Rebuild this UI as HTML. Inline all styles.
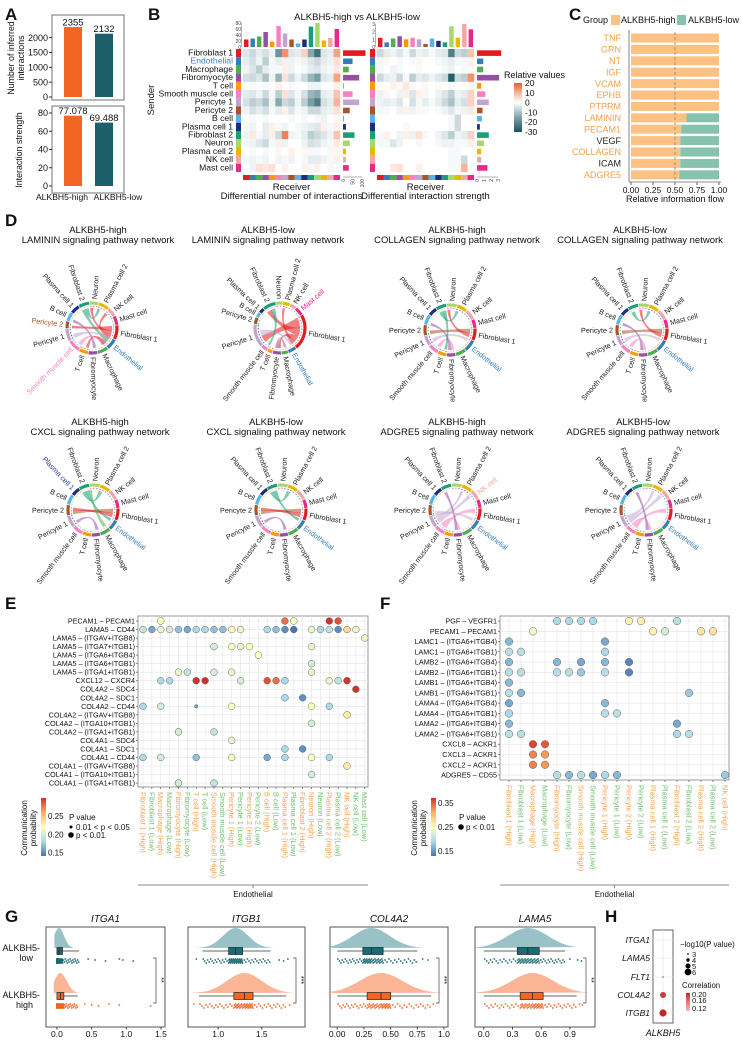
<!DOCTYPE html>
<html><head><meta charset="utf-8"><style>
html,body{margin:0;padding:0;background:#fff;}
svg{display:block;font-family:"Liberation Sans",Arial,sans-serif;}
</style></head><body>
<svg id="fig" width="742" height="1042" viewBox="0 0 742 1042" xmlns="http://www.w3.org/2000/svg"></svg>
<script>
// ---------- DATA ----------
const aCats=['ALKBH5-high','ALKBH5-low'];
const aCounts=[2355,2132];
const aStrength=[77.078,69.488];
const aCountTicks=[0,500,1000,1500,2000];
const aStrTicks=[0,20,40,60,80];

const cellTypes=['Fibroblast 1','Endothelial','Macrophage','Fibromyocyte','T cell','Smooth muscle cell','Pericyte 1','Pericyte 2','B cell','Plasma cell 1','Fibroblast 2','Neuron','Plasma cell 2','NK cell','Mast cell'];
const cellColors=['#e41a1c','#377eb8','#4daf4a','#984ea3','#ff9900','#f781bf','#c2a5cf','#a65628','#56b4e9','#1f2a80','#1b9e77','#a6d96a','#e6b800','#f4a6a6','#e7298a'];
const bLeft=[
"-4 -6 -3 -5 -2 -18 14 -4 -3 6 -14 -24 -4 -3 12",
"-3 -5 -2 -8 -1 -3 2 -2 -1 -2 -4 -6 -3 -2 4",
"-2 -4 -8 -3 -1 -1 2 -2 0 -1 -3 -4 -2 -1 3",
"-5 -6 -4 -10 -2 -12 4 -6 -2 -6 -12 -16 -4 -3 12",
"0 -1 0 -1 0 2 0 -1 0 0 -2 -2 0 0 2",
"-3 -4 -2 -6 -1 -8 4 -4 -1 -5 -12 -14 -3 -2 8",
"-5 -8 -6 -10 -2 -14 -6 -8 -2 -8 -16 -22 -5 -3 10",
"-2 -5 -3 -5 -1 -3 2 -4 -1 -2 -6 -6 -3 -2 4",
"0 -1 0 -1 0 0 0 -1 0 -1 0 -1 -2 0 1",
"-1 -2 0 -3 2 1 -2 0 -1 -2 -3 -4 2 -1 2",
"-2 3 -1 -3 2 -6 16 -2 -1 -3 -8 -6 -4 -2 8",
"-1 -2 -4 -6 -1 2 -2 0 0 -2 -5 -4 -2 -1 3",
"0 -1 0 -1 0 1 0 2 0 1 -1 -1 0 -1 1",
"-1 -2 -1 -2 0 -2 -1 -2 0 -1 -3 -3 -2 -1 2",
"0 -2 4 3 4 0 2 0 0 2 -1 2 0 -1 0"];
const bRight=[
"-6 -3 -2 -4 -1 -6 -2 -3 -1 -3 -4 -22 -6 -8 8",
"-1 1 0 -1 0 -1 1 0 0 -1 -2 -3 -1 -1 2",
"-1 0 -2 -1 0 0 1 0 0 0 -1 -2 0 -1 1",
"-6 -3 -2 -6 -1 -8 -3 -4 -2 -4 -6 -28 -6 -8 14",
"0 0 2 1 3 1 0 1 0 1 0 -1 0 0 1",
"-2 1 0 -2 2 -4 2 -1 0 -2 -4 -8 -2 -3 6",
"-2 -3 -2 -4 0 -5 -1 -3 -1 -3 -6 -10 -3 -5 6",
"-1 -1 0 -2 2 -2 1 -1 0 -1 -2 -4 -1 -2 3",
"0 0 0 0 0 0 0 0 0 0 0 -1 -6 0 0",
"0 0 0 0 1 0 0 0 0 0 0 -1 -6 0 0",
"-1 2 0 -2 2 -2 4 -1 0 -2 -4 -8 -2 -3 6",
"-1 -1 -4 -2 0 0 1 0 0 -1 -2 -2 -1 -1 2",
"0 0 0 0 0 0 0 0 0 0 0 -1 -1 0 0",
"0 0 0 0 0 0 0 0 0 0 0 -1 -1 -6 0",
"0 0 3 4 0 0 2 0 0 0 0 -1 1 10 0"];
const bTopLeft=[25,28,35,50,18,70,45,25,12,25,68,80,22,30,60];
const bTopRight=[1.2,0.6,1.1,1.4,1.0,1.2,1.0,0.4,1.1,0.8,0.6,2.7,1.2,3.0,2.3];
const bSideLeft=[118,50,30,85,5,50,85,35,5,15,60,35,15,15,30];
const bSideRight=[3.5,0.9,0.9,3.2,0.6,1.2,1.7,0.8,0.7,0.4,1.7,1.0,0.6,0.6,1.5];
const bLegendTicks=[20,10,0,-10,-20,-30];

const cPathways=['TNF','GRN','NT','IGF','VCAM','EPHB','PTPRM','LAMININ','PECAM1','VEGF','COLLAGEN','ICAM','ADGRE5'];
const cHighShare=[1,1,1,1,1,1,1,0.63,0.57,0.56,0.56,0.56,0.55];
const cSig=[1,1,1,1,1,1,1,1,1,0,1,0,1];
const cTicks=[0,0.25,0.5,0.75,1];

const dTitles=[['ALKBH5-high','LAMININ signaling pathway network'],['ALKBH5-low','LAMININ signaling pathway network'],['ALKBH5-high','COLLAGEN signaling pathway network'],['ALKBH5-low','COLLAGEN signaling pathway network'],['ALKBH5-high','CXCL signaling pathway network'],['ALKBH5-low','CXCL signaling pathway network'],['ALKBH5-high','ADGRE5 signaling pathway network'],['ALKBH5-low','ADGRE5 signaling pathway network']];
const dWeights=[
[8,6,6,5,5,7,7,4,5,5,6,5,6,5,5],
[22,5,4,5,3,4,14,4,3,3,8,4,4,4,5],
[7,7,6,5,5,6,6,6,6,5,6,6,6,6,5],
[7,7,6,5,5,6,6,6,6,5,6,6,6,6,5],
[7,6,6,5,5,6,7,6,6,5,6,6,6,6,5],
[7,6,6,5,5,6,7,6,6,5,6,6,6,6,5],
[7,6,6,5,5,6,7,6,6,5,6,6,6,6,5],
[7,6,6,5,5,6,7,6,6,5,6,6,6,6,5]];
const dLinks=[
[[0,7,3],[0,11,2],[0,13,2],[10,0,3],[10,12,2],[3,8,2],[5,2,2],[6,1,2],[0,4,2]],
[[0,6,5],[0,10,4],[0,3,3],[0,12,2],[6,1,3],[10,5,2],[3,2,2]],
[[7,0,3],[10,12,2],[5,3,3],[6,1,2],[0,11,2],[3,8,2],[10,4,2]],
[[7,0,3],[10,12,2],[5,3,3],[6,1,2],[0,11,2],[3,8,2]],
[[7,0,3],[10,12,3],[3,6,2],[10,1,2],[0,7,2],[2,10,2]],
[[7,0,3],[10,12,3],[3,6,2],[10,1,2],[0,7,2]],
[[6,13,3],[5,0,3],[6,12,2],[5,3,2],[3,10,2],[6,1,2]],
[[6,13,3],[5,0,3],[6,12,2],[5,3,2],[3,10,2]]];
const dHighlights=[{7:'#a65628',5:'#f781bf',1:'#377eb8'},{14:'#e7298a',1:'#377eb8'},{1:'#377eb8'},{1:'#377eb8'},{9:'#2d3a9a',1:'#377eb8'},{1:'#377eb8'},{13:'#f4a6a6',1:'#377eb8'},{1:'#377eb8'}];

const eRows=['PECAM1 – PECAM1','LAMA5 – CD44','LAMA5 – (ITGAV+ITGB8)','LAMA5 – (ITGA7+ITGB1)','LAMA5 – (ITGA6+ITGB4)','LAMA5 – (ITGA6+ITGB1)','LAMA5 – (ITGA1+ITGB1)','CXCL12 – CXCR4','COL4A2 – SDC4','COL4A2 – SDC1','COL4A2 – CD44','COL4A2 – (ITGAV+ITGB8)','COL4A2 – (ITGA10+ITGB1)','COL4A2 – (ITGA1+ITGB1)','COL4A1 – SDC4','COL4A1 – SDC1','COL4A1 – CD44','COL4A1 – (ITGAV+ITGB8)','COL4A1 – (ITGA10+ITGB1)','COL4A1 – (ITGA1+ITGB1)'];
const eCols=['Fibroblast 1 (High)','Fibroblast 1 (Low)','Macrophage (High)','Macrophage (Low)','Fibromyocyte (High)','Fibromyocyte (Low)','T cell (High)','T cell (Low)','Smooth muscle cell (High)','Smooth muscle cell (Low)','Pericyte 1 (High)','Pericyte 1 (Low)','Pericyte 2 (High)','Pericyte 2 (Low)','B cell (High)','B cell (Low)','Plasma cell 1 (High)','Plasma cell 1 (Low)','Fibroblast 2 (High)','Neuron (High)','Neuron (Low)','Plasma cell 2 (High)','Plasma cell 2 (Low)','NK cell (High)','NK cell (Low)','Mast cell (Low)'];
const eRowIdx=[0,0,0,0,0, 1,1,1,1,1,1,1,1,1,1,1,1,1,1,1,1,1,1,1,1,1,1, 2, 3,3,3,3,3, 4,5, 6,6,6,6,6, 7,7,7,7,7,7,7,7,7,7,7, 8, 9,9, 10,10,10,10,10,10, 11,12, 13,13,13, 14, 15,15, 16,16,16,16,16,16,16,16, 17,18, 19,19,19];
const eColIdx=[2,16,17,21,22, 0,1,2,3,4,5,6,7,8,9,10,11,14,15,16,17,19,20,21,22,23,24,25, 19, 8,10,11,12,13, 19,19, 4,5,8,10,11, 2,3,6,7,14,15,16,21,22,23,24, 18, 16,21, 0,2,6,10,19,23, 19,4, 4,8,10, 18, 16,21, 0,2,6,10,14,16,19,23, 19,4, 4,8,10];
const eProb=[0.22,0.28,0.22,0.30,0.29, 0.19,0.16,0.21,0.20,0.17,0.16,0.18,0.18,0.17,0.17,0.22,0.21,0.18,0.17,0.15,0.14,0.21,0.18,0.19,0.15,0.24,0.21,0.21, 0.21, 0.20,0.22,0.21,0.22,0.22, 0.20,0.21, 0.21,0.19,0.20,0.21,0.20, 0.18,0.18,0.30,0.30,0.29,0.28,0.18,0.21,0.19,0.30,0.30, 0.15, 0.18,0.18, 0.18,0.20,0.16,0.22,0.22,0.23, 0.20,0.20, 0.20,0.19,0.21, 0.15, 0.18,0.18, 0.18,0.20,0.17,0.22,0.16,0.18,0.22,0.23, 0.20,0.20, 0.20,0.19,0.21];
const eSmall=[[10,6]];

const fRows=['PGF – VEGFR1','PECAM1 – PECAM1','LAMC1 – (ITGA6+ITGB4)','LAMC1 – (ITGA6+ITGB1)','LAMB2 – (ITGA6+ITGB4)','LAMB2 – (ITGA6+ITGB1)','LAMB1 – (ITGA6+ITGB4)','LAMB1 – (ITGA6+ITGB1)','LAMA4 – (ITGA6+ITGB4)','LAMA4 – (ITGA6+ITGB1)','LAMA2 – (ITGA6+ITGB4)','LAMA2 – (ITGA6+ITGB1)','CXCL8 – ACKR1','CXCL3 – ACKR1','CXCL2 – ACKR1','ADGRE5 – CD55'];
const fCols=['Fibroblast 1 (High)','Fibroblast 1 (Low)','Macrophage (High)','Macrophage (Low)','Fibromyocyte (High)','Fibromyocyte (Low)','Smooth muscle cell (High)','Smooth muscle cell (Low)','Pericyte 1 (High)','Pericyte 1 (Low)','Pericyte 2 (High)','Pericyte 2 (Low)','Plasma cell 1 (High)','Plasma cell 1 (Low)','Fibroblast 2 (High)','Fibroblast 2 (Low)','Plasma cell 2 (High)','Plasma cell 2 (Low)','NK cell (High)'];
const fRowIdx=[0,0,0,0,0,0,0, 1,1,1,1,1, 2,2, 3,3,3, 4,4,4,4,4, 5,5,5,5,5,5,5, 6, 7,7,7, 8,8, 9,9,9, 10,10, 11,11,11,11, 12,12, 13,13, 14,14, 15,15,15,15,15,15,15];
const fColIdx=[4,5,6,7,10,11,14, 2,12,13,16,17, 0,8, 0,1,8, 0,4,6,8,10, 0,1,4,5,6,8,10, 0, 0,1,15, 0,8, 0,8,9, 0,14, 0,1,14,15, 2,3, 2,3, 2,3, 4,5,6,7,8,9,18];
const fProb=[0.19,0.19,0.19,0.19,0.26,0.26,0.20, 0.24,0.26,0.22,0.27,0.27, 0.17,0.16, 0.20,0.20,0.19, 0.17,0.17,0.16,0.17,0.14, 0.20,0.20,0.20,0.20,0.18,0.20,0.14, 0.17, 0.20,0.17,0.18, 0.16,0.17, 0.19,0.20,0.20, 0.17,0.16, 0.20,0.20,0.19,0.20, 0.36,0.35, 0.33,0.32, 0.33,0.32, 0.20,0.17,0.20,0.16,0.19,0.17,0.18];

const gGenes=['ITGA1','ITGB1','COL4A2','LAMA5'];
const gLowStats=[[0,0,0.03,0.08,0.32],[0.82,1.12,1.2,1.28,1.6],[0,0.24,0.32,0.43,0.75],[0,0.35,0.46,0.58,0.85]];
const gHighStats=[[0,0,0.05,0.1,0.3],[0.78,1.18,1.3,1.4,1.78],[0,0.28,0.41,0.5,0.88],[0,0.38,0.51,0.62,0.97]];
const gLowOutliers=[[0.45,0.55,0.7,0.9,0.95,1.1],[0.75,1.7,1.75,1.8],[0.8,0.85],[0.9,0.98,1.02]];
const gHighOutliers=[[0.4,0.5,0.6,0.75,0.9,1.35],[0.72,1.82],[0.9],[1.0,1.03]];
const gDomain=[[-0.1,1.5],[0.7,1.95],[-0.03,1.0],[-0.05,1.12]];
const gTicks=[[0,0.5,1.0,1.5],[1.0,1.5],[0,0.25,0.5,0.75,1.0],[0,0.3,0.6,0.9]];
const gTickLabels=[['0.0','0.5','1.0','1.5'],['1.0','1.5'],['0.00','0.25','0.50','0.75','1.0'],['0.0','0.3','0.6','0.9']];
const gSig=['**','***','***','**'];

const hGenes=['ITGA1','LAMA5','FLT1','COL4A2','ITGB1'];
const hLogP=[0.5,2.5,3.2,5.5,6.2];
const hCorr=[0.10,0.13,0.15,0.19,0.20];

// ---------- HELPERS ----------
const NS='http://www.w3.org/2000/svg';
const svg=document.getElementById('fig');
function mk(tag,attrs,parent){const e=document.createElementNS(NS,tag);for(const k in attrs)e.setAttribute(k,attrs[k]);(parent||svg).appendChild(e);return e;}
function tx(x,y,s,attrs,parent){const a=Object.assign({x:x,y:y,'font-size':8,fill:'#111'},attrs||{});const e=mk('text',a,parent);e.textContent=s;return e;}
function grp(name){const g=mk('g',{});return g;}
function hex2rgb(h){return [parseInt(h.substr(1,2),16),parseInt(h.substr(3,2),16),parseInt(h.substr(5,2),16)];}
function ramp(stops,t){t=Math.max(0,Math.min(1,t));const n=stops.length-1;const i=Math.min(n-1,Math.floor(t*n));const f=t*n-i;const a=hex2rgb(stops[i]),b=hex2rgb(stops[i+1]);return 'rgb('+a.map((v,k)=>Math.round(v+(b[k]-v)*f)).join(',')+')';}
function panelLabel(x,y,s){const e=tx(x,y,s,{'font-size':17,'font-weight':'bold'});}

panelLabel(5,20,'A');panelLabel(148,20,'B');panelLabel(569,20,'C');panelLabel(5,226,'D');panelLabel(5,609,'E');panelLabel(380,609,'F');panelLabel(5,922,'G');panelLabel(605,922,'H');

// ---------- PANEL A ----------
(function(){
  const g=grp('panel-a-bar-charts');
  const barX=[64,95], bw=18;
  const yC=v=>97-v*0.0297, yS=v=>186-v*0.9125;
  function frame(y0,y1,ticks,ys,vals,fmt,name){
    const f=mk('rect',{x:52,y:y0,width:72,height:y1-y0,fill:'none',stroke:'#888','stroke-width':1.2},g);
    
    ticks.forEach(t=>{mk('line',{x1:49,x2:52,y1:ys(t),y2:ys(t),stroke:'#333'},g);const l=tx(48,ys(t)+3.2,String(t),{'text-anchor':'end','font-size':9},g);});
    vals.forEach((v,i)=>{const b=mk('rect',{x:barX[i],y:ys(v),width:bw,height:ys(0)-ys(v),fill:i?'#1c5f6b':'#f26522'},g);
      const l=tx(barX[i]+bw/2,ys(v)-1.5,fmt(v),{'text-anchor':'middle','font-size':9.5},g);});
  }
  frame(15,100,aCountTicks,yC,aCounts,v=>String(v),'count');
  frame(106,193,aStrTicks,yS,aStrength,v=>v.toFixed(3),'strength');
  const t1=tx(0,0,'Number of inferred',{'text-anchor':'middle','font-size':8.8,transform:'translate(14,58) rotate(-90)'},g);
  tx(0,0,'interactions',{'text-anchor':'middle','font-size':8.8,transform:'translate(24,58) rotate(-90)'},g);
  const t2=tx(0,0,'Interaction strength',{'text-anchor':'middle','font-size':8.8,transform:'translate(22,150) rotate(-90)'},g);
  [62,118].forEach((x,i)=>{const l=tx(x,200,aCats[i],{'text-anchor':'middle','font-size':8.6},g);});
})();

// ---------- PANEL B ----------
(function(){
  const g=grp('panel-b-heatmaps');
  const hstops=['#18535f','#7fa3ab','#ffffff','#f9b49c','#f05a28'];
  const col=v=>v<0?ramp(hstops.slice(0,3),1-Math.max(-30,v)/-30):ramp(hstops.slice(2),Math.min(20,v)/20);
  const y0=49,rh=8.2,cw=6.47;
  const t=tx(357,20,'ALKBH5-high vs ALKBH5-low',{'text-anchor':'middle','font-size':9.5},g);
  cellTypes.forEach((c,i)=>{const l=tx(233,y0+rh*i+6.5,c,{'text-anchor':'end','font-size':8.6,fill:i==1?'#3b82c4':'#111'},g);});
  const s=tx(0,0,'Sender',{'text-anchor':'middle','font-size':9.5,transform:'translate(154,100) rotate(-90)'},g);
  function heat(mat,x0,top,topScale,topTicks,side,sideScale,sideTicks,sub,name){
    const stripX=x0-7;
    cellTypes.forEach((c,i)=>{
      mk('rect',{x:stripX,y:y0+rh*i,width:5,height:rh,fill:cellColors[i]},g);
      mk('rect',{x:x0+cw*i,y:175,width:cw,height:5,fill:cellColors[i]},g);
      const vals=mat[i].split(' ').map(Number);
      vals.forEach((v,j)=>{const r=mk('rect',{x:x0+cw*j,y:y0+rh*i,width:cw+0.2,height:rh+0.2,fill:col(v)},g);});
      const tb=mk('rect',{x:x0+cw*i+1,y:47-top[i]*topScale,width:cw-2,height:top[i]*topScale,fill:cellColors[i]},g);
      const sb=mk('rect',{x:x0+cw*15+3,y:y0+rh*i+1.3,width:side[i]*sideScale,height:rh-2.6,fill:cellColors[i]},g);
    });
    topTicks.forEach(v=>{tx(x0-2,47-v*topScale+2,String(v),{'text-anchor':'end','font-size':5,fill:'#444'},g);});
    mk('line',{x1:x0-1.5,x2:x0-1.5,y1:47,y2:47-topTicks[topTicks.length-1]*topScale,stroke:'#666','stroke-width':0.5},g);
    const sx=x0+cw*15+3;
    mk('line',{x1:sx,x2:sx+sideTicks[sideTicks.length-1]*sideScale,y1:177,y2:177,stroke:'#666','stroke-width':0.5},g);
    sideTicks.forEach(v=>{tx(0,0,String(v),{'font-size':5,fill:'#444',transform:'translate('+(sx+v*sideScale+2)+',179) rotate(-90)','text-anchor':'end'},g);});
    const cx=x0+cw*7.5;
    const r1=tx(cx,190,'Receiver',{'text-anchor':'middle','font-size':9.5},g);
    tx(cx,199,sub,{'text-anchor':'middle','font-size':9.5},g);
  }
  heat(bLeft,243,bTopLeft,0.3,[0,20,40,60,80],bSideLeft,0.19,[0,50,100],'Differential number of interactions','count-heatmap');
  heat(bRight,377,bTopRight,7.7,[0,1,2,3],bSideRight,6.9,[0,1,2,3],'Differential interaction strength','strength-heatmap');
  const lt=tx(504,78,'Relative values',{'font-size':9},g);
  const defs=mk('defs',{},g);const lg=mk('linearGradient',{id:'hg',x1:0,y1:0,x2:0,y2:1},defs);
  [['0','#f05a28'],['0.2','#f9b49c'],['0.4','#ffffff'],['0.7','#7fa3ab'],['1','#18535f']].forEach(s=>mk('stop',{offset:s[0],'stop-color':s[1]},lg));
  const lb=mk('rect',{x:514,y:83,width:8,height:49,fill:'url(#hg)'},g);
  bLegendTicks.forEach(v=>{const y=83+(20-v)/50*49;tx(525,y+3,String(v),{'font-size':8.5},g);});
})();

// ---------- PANEL C ----------
(function(){
  const g=grp('panel-c-information-flow');
  const x=v=>631+v*88, y0=33, rh=11.4;
  tx(583,23,'Group',{'font-size':9},g);
  const s1=mk('rect',{x:611,y:15,width:9,height:10,fill:'#fdc283'},g);
  tx(621,23,'ALKBH5-high',{'font-size':9},g);
  const s2=mk('rect',{x:677,y:15,width:9,height:10,fill:'#86c2ad'},g);
  tx(688,23,'ALKBH5-low',{'font-size':9},g);
  mk('line',{x1:629,x2:629,y1:30,y2:182,stroke:'#666','stroke-width':0.8},g);
  cPathways.forEach((p,i)=>{
    const yc=y0+rh*i+5;
    const b1=mk('rect',{x:x(0),y:yc-4.5,width:x(cHighShare[i])-x(0),height:9,fill:'#fdc283'},g);
    if(cHighShare[i]<1){const b2=mk('rect',{x:x(cHighShare[i]),y:yc-4.5,width:x(1)-x(cHighShare[i]),height:9,fill:'#86c2ad'},g);}
    const l=tx(621,yc+3.2,p,{'text-anchor':'end','font-size':9,fill:cSig[i]?'#f5a04a':'#222'},g);
  });
  mk('line',{x1:x(0.5),x2:x(0.5),y1:32,y2:182,stroke:'#777','stroke-dasharray':'3,2','stroke-width':0.7},g);
  mk('line',{x1:629,x2:721,y1:182,y2:182,stroke:'#666','stroke-width':0.8},g);
  cTicks.forEach(t=>{mk('line',{x1:x(t),x2:x(t),y1:182,y2:185,stroke:'#666'},g);tx(x(t),193,t.toFixed(2),{'text-anchor':'middle','font-size':8.5},g);});
  const ti=tx(675,202,'Relative information flow',{'text-anchor':'middle','font-size':9},g);
})();

// ---------- PANEL D ----------
(function(){
  const centers=[[92,328],[280,328],[450,330],[642,330],[93,510],[281,510],[455,510],[646,510]];
  const titleX=[98,268,457,640,100,276,457,643];
  const titleY=[233,233,233,233,425,425,425,425];
  const R=25, RAD=Math.PI/180;
  centers.forEach((c,di)=>{
    const g=grp('chord-diagram-'+(di+1));
    const [cx,cy]=c;
    const t1=tx(titleX[di],titleY[di],dTitles[di][0],{'text-anchor':'middle','font-size':9.5},g);
    tx(titleX[di],titleY[di]+10,dTitles[di][1],{'text-anchor':'middle','font-size':9.5},g);
    const w=dWeights[di];const tot=w.reduce((a,b)=>a+b,0);const gap=1.5;const avail=360-gap*15;
    let a=10-(w[0]/tot*avail)/2;const arcs=[];
    w.forEach((v,i)=>{const span=v/tot*avail;arcs.push([a,a+span]);a+=span+gap;});
    const pt=(ang,r)=>[cx+r*Math.cos(ang*RAD),cy+r*Math.sin(ang*RAD)];
    const used=arcs.map(()=>0);
    dLinks[di].forEach(l=>{
      const [s,t,wt]=l;const spanS=(arcs[s][1]-arcs[s][0]),spanT=(arcs[t][1]-arcs[t][0]);
      const ws=Math.min(spanS*0.45,wt*6),wtA=Math.min(spanT*0.45,wt*4);
      const s1=arcs[s][0]+used[s],s2=s1+ws;used[s]+=ws;
      const t1a=arcs[t][0]+used[t],t2=t1a+wtA;used[t]+=wtA;
      const r=R-5;const p1=pt(s1,r),p2=pt(s2,r),p3=pt(t1a,r),p4=pt(t2,r);
      const d='M'+p1+' A'+r+','+r+' 0 0,1 '+p2+' Q'+cx+','+cy+' '+p3+' A'+r+','+r+' 0 0,1 '+p4+' Q'+cx+','+cy+' '+p1+'Z';
      const rb=mk('path',{d:d,fill:cellColors[s],'fill-opacity':0.55,stroke:cellColors[s],'stroke-opacity':0.3,'stroke-width':0.3},g);
      
    });
    const hl=dHighlights[di];
    arcs.forEach((ar,i)=>{
      const p1=pt(ar[0],R),p2=pt(ar[1],R);const large=(ar[1]-ar[0])>180?1:0;
      const arc=mk('path',{d:'M'+p1+' A'+R+','+R+' 0 '+large+',1 '+p2,fill:'none',stroke:cellColors[i],'stroke-width':3.2},g);
      
      const q1=pt(ar[0],R-3.2),q2=pt(ar[1],R-3.2);
      mk('path',{d:'M'+q1+' A'+(R-3.2)+','+(R-3.2)+' 0 '+large+',1 '+q2,fill:'none',stroke:cellColors[(i+3)%15],'stroke-width':1,'stroke-dasharray':'1.5,1.5','stroke-opacity':0.7},g);
      const mid=(ar[0]+ar[1])/2;let m=((mid%360)+360)%360;const p=pt(mid,R+4);
      const right=(m<90||m>270);const rot=right?m:m-180;
      const lbl=tx(p[0],p[1],cellTypes[i],{'font-size':7.2,'text-anchor':right?'start':'end','dominant-baseline':'central',fill:hl[i]||'#222',transform:'rotate('+rot.toFixed(1)+' '+p[0].toFixed(1)+' '+p[1].toFixed(1)+')'},g);
      
    });
  });
})();

// ---------- PANELS E & F (dot plots) ----------
function dotPlot(cfg){
  const g=grp(cfg.name);
  const {rows,cols,x0,x1,y0,y1,rFirst,rStep,cFirst,cStep,vmin,vmax}=cfg;
  const stops=['#4575b4','#abd9e9','#ffffbf','#fdae61','#d73027'];
  const fr=mk('rect',{x:x0,y:y0,width:x1-x0,height:y1-y0,fill:'#fff',stroke:'#999','stroke-width':1},g);
  rows.forEach((r,i)=>{const y=rFirst+rStep*i;mk('line',{x1:x0,x2:x1,y1:y,y2:y,stroke:'#e4e4e4','stroke-width':0.6},g);
    mk('line',{x1:x0-2,x2:x0,y1:y,y2:y,stroke:'#444','stroke-width':0.6},g);
    const l=tx(x0-3,y+2.5,r,{'text-anchor':'end','font-size':7.2},g);});
  cols.forEach((c,j)=>{const x=cFirst+cStep*j;mk('line',{x1:x,x2:x,y1:y0,y2:y1,stroke:'#e4e4e4','stroke-width':0.6},g);
    mk('line',{x1:x,x2:x,y1:y1,y2:y1+2,stroke:'#444','stroke-width':0.6},g);
    const l=tx(0,0,c,{'font-size':7.4,fill:c.indexOf('(High)')>=0?'#f5a04a':'#6cbf6c',transform:'translate('+(x-2.6)+','+(y1+5)+') rotate(90)'},g);});
  cfg.ri.forEach((ri,k)=>{
    const ci=cfg.ci[k];const small=(cfg.small||[]).some(s=>s[0]==ri&&s[1]==ci);
    const d=mk('circle',{cx:cFirst+cStep*ci,cy:rFirst+rStep*ri,r:small?1.8:cfg.dotR,fill:ramp(stops,(cfg.p[k]-vmin)/(vmax-vmin)),stroke:'#666','stroke-width':0.5},g);
    
  });
  mk('line',{x1:x0,x2:x1,y1:885,y2:885,stroke:'#666','stroke-width':0.8},g);
  mk('line',{x1:(x0+x1)/2,x2:(x0+x1)/2,y1:885,y2:888,stroke:'#666','stroke-width':0.8},g);
  const e=tx((x0+x1)/2,897,'Endothelial',{'text-anchor':'middle','font-size':8},g);
  const lx=cfg.legX;const id='cg'+cfg.name;const defs=mk('defs',{},g);const lg=mk('linearGradient',{id:id,x1:0,y1:1,x2:0,y2:0},defs);
  stops.forEach((s,i)=>mk('stop',{offset:i/4,'stop-color':s},lg));
  const bTop=798,bH=58;
  const cb=mk('rect',{x:lx,y:bTop,width:5,height:bH,fill:'url(#'+id+')'},g);
  tx(0,0,'Communication',{'font-size':8,'text-anchor':'middle',transform:'translate('+(lx-14)+',828) rotate(-90)'},g);
  tx(0,0,'probability',{'font-size':8,'text-anchor':'middle',transform:'translate('+(lx-5)+',828) rotate(-90)'},g);
  cfg.legTicks.forEach(t=>{tx(lx+7,bTop+bH*(1-(t-vmin)/(vmax-vmin))+3,t.toFixed(2),{'font-size':8},g);});
  const px=lx+28;
  tx(px,820,'P value',{'font-size':8},g);
  cfg.pLegend.forEach((s,i)=>{mk('circle',{cx:px+2,cy:827+i*8,r:s[0],fill:'#000'},g);tx(px+7,830+i*8,s[1],{'font-size':8},g);});
}
dotPlot({name:'panel-e-dot-plot',rows:eRows,cols:eCols,x0:138,x1:368,y0:616,y1:787,rFirst:621,rStep:8.53,cFirst:143,cStep:8.87,vmin:0.14,vmax:0.30,ri:eRowIdx,ci:eColIdx,p:eProb,small:eSmall,dotR:3.4,legX:41,legTicks:[0.15,0.20,0.25],pLegend:[[1.5,'0.01 < p < 0.05'],[2.8,'p < 0.01']]});
dotPlot({name:'panel-f-dot-plot',rows:fRows,cols:fCols,x0:500,x1:729,y0:616,y1:780,rFirst:621,rStep:10.27,cFirst:509,cStep:12,vmin:0.13,vmax:0.37,ri:fRowIdx,ci:fColIdx,p:fProb,dotR:3.8,legX:431,legTicks:[0.15,0.25,0.35],pLegend:[[2.8,'p < 0.01']]});

// ---------- PANEL G ----------
(function(){
  const boxes=[[46,165],[188,305],[330,448],[475,595]];
  const yTop=927,yBot=1027;
  const groups=[{stats:gLowStats,out:gLowOutliers,dens:948,box:951,pts:960,c:'#1c6b73',cl:'#7fb3b8'},{stats:gHighStats,out:gHighOutliers,dens:993,box:996,pts:1005,c:'#f26522',cl:'#f7a27c'}];
  gGenes.forEach((gene,gi)=>{
    const g=grp('raincloud-'+gene.toLowerCase());
    const [bx0,bx1]=boxes[gi];const dom=gDomain[gi];
    const x=v=>bx0+4+(v-dom[0])/(dom[1]-dom[0])*(bx1-bx0-8);
    const fr=mk('rect',{x:bx0,y:yTop,width:bx1-bx0,height:yBot-yTop,fill:'none',stroke:'#555','stroke-width':1},g);
    const tt=tx((bx0+bx1)/2,922,gene,{'text-anchor':'middle','font-size':10,'font-style':'italic'},g);
    gTicks[gi].forEach((t,k)=>{mk('line',{x1:x(t),x2:x(t),y1:yBot,y2:yBot+2.5,stroke:'#444'},g);tx(x(t),1037,gTickLabels[gi][k],{'text-anchor':'middle','font-size':8.5},g);});
    groups.forEach((gr,k)=>{
      const s=gr.stats[gi];const sd=Math.max((s[3]-s[1])/1.1,0.03);
      let d='M'+x(Math.max(dom[0],s[0]-sd*0.5))+','+gr.dens;
      const N=40;for(let i=0;i<=N;i++){const v=s[0]-sd*0.5+(s[4]+sd*0.6-(s[0]-sd*0.5))*i/N;const h=20*Math.exp(-0.5*Math.pow((v-s[2])/sd,2));d+=' L'+x(v).toFixed(1)+','+(gr.dens-h).toFixed(1);}
      d+=' Z';const dp=mk('path',{d:d,fill:gr.cl,'fill-opacity':0.8},g);
      mk('line',{x1:x(s[0]),x2:x(s[4]),y1:gr.box,y2:gr.box,stroke:'#333','stroke-width':0.7},g);
      const bb=mk('rect',{x:x(s[1]),y:gr.box-3.5,width:Math.max(2,x(s[3])-x(s[1])),height:7,fill:gr.c,stroke:'#222','stroke-width':0.7},g);
      mk('line',{x1:x(s[2]),x2:x(s[2]),y1:gr.box-3.5,y2:gr.box+3.5,stroke:'#222','stroke-width':0.8},g);
      const M=70;for(let i=0;i<M;i++){const q=(i+0.5)/M*4;const seg=Math.floor(q),f=q-seg;const v=s[seg]+(s[seg+1]-s[seg])*f;
        mk('circle',{cx:x(v).toFixed(1),cy:gr.pts+((i*7)%5)-1,r:0.9,fill:gr.c},g);}
      gr.out[gi].forEach((v,i)=>mk('circle',{cx:x(v),cy:gr.pts+(i%3)-1,r:0.9,fill:gr.c},g));
    });
    const bxr=bx1-9;
    mk('path',{d:'M'+(bxr-3)+',958 H'+bxr+' V1003 H'+(bxr-3),fill:'none',stroke:'#444','stroke-width':0.7},g);
    const st=tx(0,0,gSig[gi],{'font-size':7,'text-anchor':'middle',transform:'translate('+(bxr+3)+',980) rotate(90)'},g);
  });
  const gl=grp('raincloud-group-labels');
  tx(40,951,'ALKBH5-',{'text-anchor':'end','font-size':9},gl);tx(33,961,'low',{'text-anchor':'end','font-size':9},gl);
  tx(40,998,'ALKBH5-',{'text-anchor':'end','font-size':9},gl);tx(33,1008,'high',{'text-anchor':'end','font-size':9},gl);
})();

// ---------- PANEL H ----------
(function(){
  const g=grp('panel-h-correlation-dots');
  const yPos=[940,958,977,995,1013];
  const fr=mk('rect',{x:653,y:930,width:20,height:93,fill:'#fff',stroke:'#666','stroke-width':1},g);
  mk('line',{x1:663,x2:663,y1:930,y2:1023,stroke:'#e4e4e4','stroke-width':0.6},g);
  const rScale=v=>Math.max(0.4,(v-2)*0.85);
  const cstops=['#f3b9b9','#e07a7a','#c0282d'];
  hGenes.forEach((gn,i)=>{
    mk('line',{x1:653,x2:673,y1:yPos[i],y2:yPos[i],stroke:'#e4e4e4','stroke-width':0.6},g);
    const l=tx(650,yPos[i]+3,gn,{'text-anchor':'end','font-size':8.5,'font-style':'italic'},g);
    const d=mk('circle',{cx:663,cy:yPos[i],r:rScale(hLogP[i]),fill:ramp(cstops,(hCorr[i]-0.11)/0.09)},g);
  });
  tx(663,1036,'ALKBH5',{'text-anchor':'middle','font-size':9,'font-style':'italic'},g);
  tx(680,947,'−log10(P value)',{'font-size':7.8},g);
  [3,4,5,6].forEach((v,i)=>{mk('circle',{cx:688,cy:954+i*6,r:rScale(v),fill:'#000'},g);tx(692,957+i*6,String(v),{'font-size':7.5},g);});
  tx(682,988,'Correlation',{'font-size':7.8},g);
  const defs=mk('defs',{},g);const lg=mk('linearGradient',{id:'hcg',x1:0,y1:1,x2:0,y2:0},defs);
  cstops.forEach((s,i)=>mk('stop',{offset:i/2,'stop-color':s},lg));
  const cb=mk('rect',{x:686,y:993,width:4,height:18,fill:'url(#hcg)'},g);
  [['0.20',997],['0.16',1003],['0.12',1011]].forEach(t=>tx(692,t[1],t[0],{'font-size':7.5},g));
})();
</script>
</body></html>
